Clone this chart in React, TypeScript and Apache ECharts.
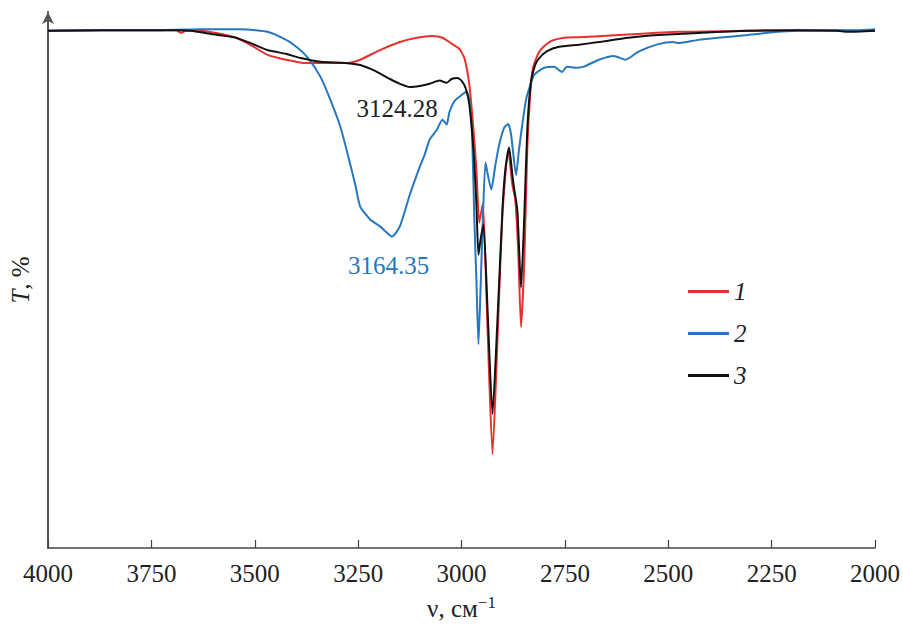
import React, { useEffect, useRef } from "react";
import * as echarts from "echarts";

// wavenumber (cm^-1), transmittance T (%)
const series1: [number, number][] = [
  [4000, 96.5], [3870, 96.6], [3750, 96.6], [3690, 96.6], [3678, 96.1], [3666, 96.5],
  [3630, 96.5], [3594, 96.1], [3558, 95.5], [3534, 94.8], [3502, 93.5], [3469, 92.0],
  [3425, 91.1], [3382, 90.5], [3276, 90.5], [3245, 91.1], [3197, 92.9], [3149, 94.4],
  [3108, 95.2], [3070, 95.5], [3046, 95.2], [3022, 94.0], [3005, 93.1], [2993, 91.4],
  [2981, 86.4], [2971, 78.0], [2964, 70.6], [2957, 60.7], [2949, 64.1], [2937, 40.8],
  [2925, 17.5], [2913, 38.9], [2901, 62.2], [2887, 74.3], [2877, 67.8], [2870, 65.0],
  [2863, 55.7], [2856, 41.2], [2848, 53.8], [2841, 74.3], [2834, 84.5], [2827, 89.6],
  [2812, 92.6], [2788, 94.4], [2752, 95.2], [2716, 95.3], [2620, 95.7], [2476, 96.3],
  [2308, 96.5], [2187, 96.6], [2067, 96.5], [2000, 96.5],
];

const series2: [number, number][] = [
  [4000, 96.5], [3870, 96.6], [3750, 96.6], [3630, 96.8], [3534, 96.8], [3498, 96.6],
  [3469, 96.3], [3437, 95.3], [3406, 93.9], [3373, 91.6], [3341, 87.9], [3317, 83.6],
  [3293, 78.6], [3276, 73.7], [3257, 67.8], [3245, 63.7], [3221, 61.3], [3197, 60.0],
  [3183, 59.0], [3168, 58.1], [3149, 60.0], [3125, 65.9], [3101, 71.1], [3089, 73.4],
  [3077, 76.2], [3060, 78.0], [3046, 79.9], [3036, 79.0], [3029, 81.4], [3017, 83.4],
  [3005, 84.2], [2988, 85.1], [2981, 83.6], [2974, 76.2], [2969, 61.3], [2964, 50.1],
  [2959, 38.0], [2954, 48.2], [2949, 60.0], [2942, 71.9], [2935, 69.1], [2928, 66.9],
  [2918, 71.5], [2909, 75.2], [2897, 78.4], [2887, 79.1], [2880, 77.1], [2868, 69.6],
  [2861, 74.3], [2853, 79.0], [2844, 83.6], [2836, 85.8], [2824, 88.3], [2800, 89.6],
  [2776, 89.8], [2757, 88.8], [2745, 89.8], [2721, 89.6], [2704, 89.8], [2668, 91.1],
  [2632, 91.8], [2603, 91.1], [2572, 92.6], [2524, 94.0], [2488, 94.4], [2476, 94.2],
  [2428, 94.8], [2380, 95.2], [2308, 95.7], [2235, 96.3], [2187, 96.5], [2115, 96.6],
  [2043, 96.6], [2000, 96.8],
];

const series3: [number, number][] = [
  [4000, 96.5], [3870, 96.6], [3750, 96.6], [3690, 96.6], [3654, 96.5], [3606, 95.9],
  [3550, 95.3], [3510, 94.2], [3469, 92.9], [3425, 92.2], [3389, 91.4], [3341, 90.7],
  [3281, 90.5], [3245, 90.1], [3209, 89.0], [3173, 87.5], [3149, 86.6], [3125, 86.0],
  [3101, 86.2], [3077, 86.6], [3053, 87.2], [3036, 86.8], [3024, 87.5], [3010, 87.7],
  [3000, 87.2], [2990, 85.8], [2981, 82.7], [2971, 74.3], [2964, 64.1], [2959, 54.7],
  [2954, 57.5], [2947, 60.3], [2937, 44.5], [2925, 25.0], [2913, 42.6], [2901, 63.1],
  [2894, 70.6], [2885, 74.7], [2877, 69.6], [2873, 67.2], [2865, 63.1], [2856, 48.6],
  [2848, 62.2], [2841, 78.0], [2832, 87.0], [2822, 90.1], [2812, 91.4], [2793, 92.7],
  [2764, 93.5], [2716, 93.9], [2668, 94.4], [2596, 95.2], [2524, 95.7], [2428, 96.1],
  [2308, 96.5], [2187, 96.6], [2091, 96.5], [2067, 96.3], [2000, 96.5],
];

const seriesNames = ["1", "2", "3"];
const annotation3: [number, number] = [3124.28, 86.0];
const annotation2: [number, number] = [3164.35, 58.1];

const FONT = "Liberation Serif";
const RED = "#e8302e";
const BLUE = "#2677c0";
const BLACK = "#111111";

export default function App() {
  const ref = useRef<HTMLDivElement>(null);
  useEffect(() => {
    if (!ref.current) return;
    const chart = echarts.init(ref.current, undefined, { renderer: "svg" });
    const lineSeries = (name: string, data: [number, number][], color: string, extra: any = {}) => ({
      name,
      type: "line",
      data,
      showSymbol: false,
      symbol: "none",
      smooth: 0.2,
      lineStyle: { color, width: 2 },
      itemStyle: { color },
      ...extra,
    });
    chart.setOption({
      animation: false,
      grid: { left: 46, right: 18, top: 12, bottom: 77 },
      legend: {
        orient: "vertical",
        left: 683,
        top: 274,
        icon: "rect",
        itemWidth: 41,
        itemHeight: 3,
        itemGap: 17,
        data: seriesNames,
        textStyle: { fontFamily: FONT, fontSize: 25, fontStyle: "italic", color: "#222", lineHeight: 24 },
      },
      xAxis: {
        type: "value",
        inverse: true,
        min: 2000,
        max: 4000,
        interval: 250,
        name: "ν, см{sup|−1}",
        nameLocation: "middle",
        nameGap: 46,
        nameTextStyle: {
          fontFamily: FONT,
          fontSize: 25,
          color: "#222",
          rich: { sup: { fontFamily: FONT, fontSize: 17, color: "#222", padding: [0, 0, 12, 0] } },
        },
        axisLine: { lineStyle: { color: "#444", width: 1.5 } },
        axisTick: { inside: true, length: 8, lineStyle: { color: "#444", width: 1.2 } },
        axisLabel: { fontFamily: FONT, fontSize: 25, color: "#222", margin: 13, formatter: (v: number) => String(v) },
        splitLine: { show: false },
      },
      yAxis: {
        type: "value",
        min: 0,
        max: 100,
        name: "{i|T}, %",
        nameLocation: "middle",
        nameRotate: 90,
        nameGap: 15,
        nameTextStyle: {
          fontFamily: FONT,
          fontSize: 25,
          color: "#222",
          rich: { i: { fontFamily: FONT, fontSize: 25, fontStyle: "italic", color: "#222" } },
        },
        axisLine: { show: true, symbol: ["none", "arrow"], symbolSize: [9, 12], lineStyle: { color: "#555", width: 2 } },
        axisTick: { show: false },
        axisLabel: { show: false },
        splitLine: { show: false },
      },
      series: [
        lineSeries(seriesNames[0], series1, RED),
        lineSeries(seriesNames[1], series2, BLUE, {
          markPoint: {
            symbol: "circle",
            symbolSize: 0,
            silent: true,
            label: { show: true, formatter: "3164.35", fontFamily: FONT, fontSize: 25, color: BLUE, offset: [-5, 29] },
            data: [{ coord: annotation2 }],
          },
        }),
        lineSeries(seriesNames[2], series3, BLACK, {
          markPoint: {
            symbol: "circle",
            symbolSize: 0,
            silent: true,
            label: { show: true, formatter: "3124.28", fontFamily: FONT, fontSize: 25, color: "#222", offset: [-13, 21] },
            data: [{ coord: annotation3 }],
          },
        }),
      ],
    });
    return () => chart.dispose();
  }, []);
  return <div ref={ref} style={{ position: "absolute", left: 0, top: 0, width: 903, height: 626 }} />;
}
